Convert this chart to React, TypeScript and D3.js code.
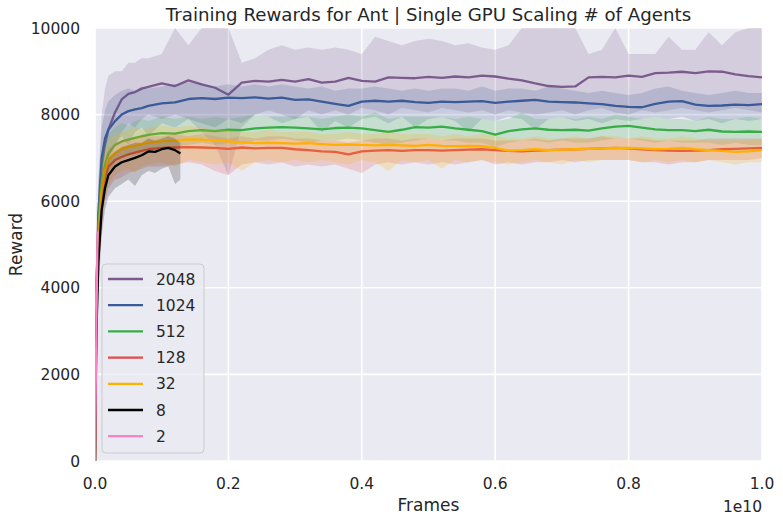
import * as d3 from 'd3';

const W = 783;
const H = 521;
const M = { left: 95, right: 762, top: 28, bottom: 461 };

// shared frame grid (units of 1e10 frames)
const frames = [
  0, 0.002, 0.005, 0.01, 0.015, 0.02, 0.03, 0.04, 0.05, 0.06, 0.07, 0.08, 0.1, 0.12, 0.14, 0.16, 0.18, 0.2,
  0.22, 0.24, 0.26, 0.28, 0.3, 0.32, 0.34, 0.36, 0.38, 0.4, 0.42, 0.44, 0.46, 0.48, 0.5, 0.52, 0.54, 0.56,
  0.58, 0.6, 0.62, 0.64, 0.66, 0.68, 0.7, 0.72, 0.74, 0.76, 0.78, 0.8, 0.82, 0.84, 0.86, 0.88, 0.9, 0.92,
  0.94, 0.96, 0.98, 1.0,
];

const mean2048 = [
  0, 3400, 5300, 6800, 7300, 7650, 8050, 8350, 8480, 8520, 8600, 8640, 8720, 8660, 8790, 8700, 8620, 8460,
  8740, 8780, 8760, 8800, 8760, 8820, 8740, 8760, 8850, 8780, 8760, 8860, 8850, 8840, 8870, 8850, 8880, 8860,
  8900, 8880, 8830, 8790, 8720, 8660, 8640, 8650, 8860, 8870, 8860, 8900, 8870, 8960, 8970, 8990, 8960, 9000,
  8990, 8930, 8890, 8860,
];
const hi2048 = [
  200, 4500, 6500, 8000, 8600, 8900, 9000, 9000, 9200, 9200, 9300, 9300, 9400, 10000, 9600, 10000, 10000, 10000,
  9200, 9300, 9500, 9600, 9500, 9550, 9500, 9550, 9500, 9400, 9800, 9700, 9600, 9700, 9750, 9700, 9600, 9650,
  9550, 9500, 9600, 10000, 10000, 10000, 10000, 10000, 9400, 9500, 10000, 9400, 9400, 9400, 9800, 9500, 9500, 9900,
  9600, 9900, 10000, 10000,
];
const lo2048 = [
  0, 2500, 4200, 5600, 6300, 6800, 7300, 7600, 7800, 7700, 7900, 8000, 7900, 8000, 7900, 7600, 7300, 6600,
  7700, 8000, 8100, 8000, 7900, 8100, 8000, 8100, 8000, 8150, 8100, 8000, 8150, 8100, 8050, 8150, 8100, 8050,
  8100, 8000, 8100, 8050, 8000, 8050, 8100, 8000, 8100, 8150, 8050, 8000, 8100, 8050, 8100, 8150, 8100, 8050,
  8100, 8150, 8100, 8050,
];

const mean1024 = [
  0, 3800, 5700, 7000, 7450, 7650, 7850, 8000, 8080, 8120, 8150, 8200, 8260, 8280, 8360, 8380, 8360, 8390,
  8380, 8400, 8370, 8390, 8340, 8350, 8300, 8250, 8200, 8300, 8320, 8300, 8320, 8290, 8270, 8300, 8290, 8300,
  8310, 8270, 8300, 8320, 8340, 8300, 8290, 8280, 8260, 8240, 8200, 8180, 8170, 8250, 8300, 8310, 8230, 8200,
  8210, 8230, 8220, 8240,
];
const hi1024 = [
  100, 4600, 6400, 7700, 8100, 8300, 8450, 8550, 8600, 8550, 8650, 8600, 8650, 8700, 8750, 8700, 8650, 8700,
  8650, 8700, 8650, 8700, 8650, 8600, 8650, 8550, 8600, 8600, 8650, 8600, 8550, 8600, 8550, 8600, 8600, 8550,
  8650, 8550, 8600, 8600, 8550, 8650, 8600, 8550, 8500, 8550, 8500, 8450, 8500, 8600, 8650, 8550, 8500, 8450,
  8500, 8550, 8500, 8500,
];
const lo1024 = [
  0, 2800, 4800, 6200, 6800, 7000, 7300, 7500, 7300, 7600, 7700, 7500, 7800, 7700, 7900, 7800, 7700, 7900,
  7800, 8000, 7950, 7800, 7900, 7950, 7600, 7850, 7700, 7900, 7950, 7800, 7950, 7700, 7900, 7950, 7850, 7600,
  7900, 7850, 7950, 7900, 7650, 7900, 7950, 7850, 7900, 7800, 7900, 7850, 7900, 7950, 7900, 7950, 7850, 7900,
  7800, 7900, 7850, 7900,
];

const mean512 = [
  0, 4000, 5400, 6400, 6850, 7100, 7300, 7380, 7420, 7460, 7500, 7530, 7570, 7560, 7620, 7640, 7620, 7650,
  7640, 7680, 7700, 7710, 7700, 7680, 7660, 7690, 7700, 7680, 7640, 7600, 7650, 7710, 7700, 7720, 7680, 7650,
  7620, 7540, 7620, 7660, 7680, 7650, 7640, 7650, 7630, 7680, 7720, 7740, 7700, 7660, 7640, 7640, 7620, 7650,
  7610, 7600, 7610, 7600,
];
const hi512 = [
  100, 4800, 6100, 7000, 7350, 7550, 7700, 7800, 7750, 7850, 7900, 7850, 7950, 7900, 7950, 7900, 7950, 7900,
  7950, 8000, 7950, 7950, 7950, 7950, 7900, 7950, 8000, 7950, 8050, 7900, 7950, 7950, 7950, 7950, 7900, 7950,
  7900, 7850, 7900, 8050, 7900, 7900, 7950, 7900, 7950, 7900, 8000, 7950, 7900, 7950, 7900, 7900, 7850, 7950,
  7900, 7900, 7950, 7900,
];
const lo512 = [
  0, 3200, 4700, 5800, 6300, 6600, 6900, 7000, 7050, 7100, 7150, 7200, 7250, 7250, 7300, 7350, 7300, 7350,
  7300, 7400, 7400, 7450, 7400, 7350, 7400, 7400, 7450, 7400, 7350, 7300, 7350, 7400, 7450, 7400, 7400, 7350,
  7350, 7250, 7350, 7400, 7400, 7350, 7400, 7350, 7350, 7400, 7450, 7450, 7400, 7350, 7400, 7350, 7350, 7350,
  7300, 7350, 7300, 7300,
];

const mean128 = [
  0, 3500, 4900, 6050, 6550, 6800, 6950, 7020, 7080, 7120, 7160, 7200, 7230, 7240, 7250, 7240, 7230, 7210,
  7240, 7220, 7230, 7230, 7200, 7180, 7150, 7140, 7080, 7150, 7170, 7180, 7160, 7180, 7180, 7170, 7180, 7190,
  7200, 7180, 7160, 7150, 7170, 7180, 7190, 7200, 7210, 7220, 7230, 7220, 7200, 7180, 7170, 7160, 7170, 7180,
  7200, 7210, 7220, 7230,
];
const hi128 = [
  100, 4300, 5600, 6600, 7000, 7200, 7350, 7400, 7450, 7450, 7500, 7500, 7500, 7550, 7500, 7550, 7500, 7450,
  7500, 7450, 7500, 7500, 7450, 7450, 7400, 7400, 7350, 7400, 7450, 7450, 7400, 7450, 7450, 7400, 7450, 7450,
  7450, 7400, 7400, 7400, 7450, 7400, 7450, 7450, 7450, 7500, 7450, 7450, 7450, 7400, 7400, 7400, 7400, 7450,
  7450, 7450, 7450, 7450,
];
const lo128 = [
  0, 2700, 4100, 5400, 6000, 6300, 6500, 6550, 6650, 6700, 6750, 6800, 6800, 6850, 6900, 6850, 6700, 6600,
  6850, 6900, 6850, 6900, 6800, 6850, 6800, 6850, 6750, 6650, 6850, 6900, 6850, 6900, 6850, 6900, 6850, 6900,
  6950, 6850, 6900, 6850, 6900, 6900, 6950, 6900, 6950, 6950, 6950, 6950, 6900, 6900, 6850, 6900, 6900, 6950,
  6950, 6950, 6950, 7000,
];

const mean32 = [
  0, 3700, 5100, 6200, 6700, 6950, 7100, 7200, 7250, 7280, 7320, 7350, 7380, 7400, 7430, 7420, 7400, 7380,
  7360, 7340, 7350, 7340, 7330, 7340, 7320, 7300, 7310, 7300, 7290, 7300, 7290, 7280, 7300, 7280, 7270, 7280,
  7270, 7230, 7170, 7180, 7200, 7180, 7190, 7200, 7210, 7220, 7230, 7230, 7220, 7200, 7210, 7230, 7200, 7180,
  7160, 7140, 7150, 7180,
];
const hi32 = [
  100, 4500, 5800, 6800, 7200, 7400, 7550, 7600, 7650, 7700, 7650, 7700, 7750, 7700, 7750, 7700, 7650, 7650,
  7600, 7600, 7650, 7600, 7600, 7600, 7550, 7550, 7600, 7550, 7550, 7600, 7550, 7550, 7550, 7500, 7550, 7500,
  7550, 7500, 7450, 7450, 7500, 7450, 7450, 7500, 7450, 7500, 7500, 7450, 7500, 7450, 7450, 7500, 7450, 7400,
  7400, 7400, 7400, 7450,
];
const lo32 = [
  0, 2900, 4300, 5500, 6100, 6400, 6600, 6700, 6750, 6650, 6800, 6850, 6900, 6800, 6950, 6900, 6850, 6900,
  6700, 6900, 6950, 6900, 6950, 6900, 6950, 6900, 6850, 6950, 6900, 6700, 6950, 6900, 6950, 6750, 6950, 6900,
  6950, 6900, 6850, 6900, 6950, 6900, 6850, 6950, 6900, 6950, 6950, 6950, 6900, 6950, 6900, 6950, 6900, 6950,
  6900, 6850, 6900, 6900,
];

// 8 agents: short run
const frames8 = [0, 0.002, 0.005, 0.01, 0.015, 0.02, 0.03, 0.04, 0.05, 0.06, 0.07, 0.08, 0.09, 0.1, 0.11, 0.12, 0.128];
const mean8 = [0, 2900, 4600, 5800, 6300, 6600, 6800, 6900, 6950, 7000, 7060, 7150, 7140, 7200, 7230, 7180, 7100];
const hi8 = [100, 3800, 5400, 6400, 6800, 7000, 7150, 7250, 7300, 7350, 7350, 7450, 7400, 7450, 7500, 7450, 7350];
const lo8 = [0, 2000, 3800, 5200, 5800, 6100, 6300, 6400, 6500, 6350, 6600, 6700, 6650, 6750, 6800, 6400, 6500];

// 2 agents: barely started
const frames2 = [0, 0.001, 0.002, 0.003, 0.004];
const mean2 = [0, 1500, 3000, 4300, 5300];
const hi2 = [100, 1900, 3500, 4800, 5700];
const lo2 = [0, 1100, 2500, 3800, 4900];

const labels = ['2048', '1024', '512', '128', '32', '8', '2'];
const colors = ['#7c5b8c', '#3a5a98', '#37ae45', '#e24b4b', '#ffb000', '#000000', '#ff80c4'];

const xTicks = [0, 0.2, 0.4, 0.6, 0.8, 1.0];
const yTicks = [0, 2000, 4000, 6000, 8000, 10000];

type Run = { label: string; color: string; f: number[]; m: number[]; hi: number[]; lo: number[] };

const runs: Run[] = [
  { f: frames, m: mean2048, hi: hi2048, lo: lo2048 },
  { f: frames, m: mean1024, hi: hi1024, lo: lo1024 },
  { f: frames, m: mean512, hi: hi512, lo: lo512 },
  { f: frames, m: mean128, hi: hi128, lo: lo128 },
  { f: frames, m: mean32, hi: hi32, lo: lo32 },
  { f: frames8, m: mean8, hi: hi8, lo: lo8 },
  { f: frames2, m: mean2, hi: hi2, lo: lo2 },
].map((r, i) => ({ ...r, label: labels[i], color: colors[i] }));

const FONT = 'DejaVu Sans, sans-serif';
const TXT = '#262626';

export default function App() {
  const x = d3.scaleLinear().domain([0, 1]).range([M.left, M.right]);
  const y = d3.scaleLinear().domain([0, 10000]).range([M.bottom, M.top]);

  const lineFor = (r: Run) =>
    d3
      .line<number>()
      .x((_, i) => x(r.f[i]))
      .y((v) => y(v))(r.m) ?? '';
  const areaFor = (r: Run) =>
    d3
      .area<number>()
      .x((_, i) => x(r.f[i]))
      .y0((_, i) => y(r.lo[i]))
      .y1((v) => y(v))(r.hi) ?? '';

  const legX = 102;
  const legY = 264;
  const rowH = 26.2;

  return (
    <svg width={W} height={H} style={{ position: 'absolute', left: 0, top: 0 }} fontFamily={FONT}>
      <rect width={W} height={H} fill="#ffffff" />
      <defs>
        <clipPath id="plot">
          <rect x={M.left} y={M.top} width={M.right - M.left} height={M.bottom - M.top} />
        </clipPath>
      </defs>
      <rect x={M.left} y={M.top} width={M.right - M.left} height={M.bottom - M.top} fill="#eaeaf2" />

      {/* grid */}
      {xTicks.map((t) => (
        <line key={'gx' + t} x1={x(t)} x2={x(t)} y1={M.top} y2={M.bottom} stroke="#fff" strokeWidth={1.6} />
      ))}
      {yTicks.map((t) => (
        <line key={'gy' + t} x1={M.left} x2={M.right} y1={y(t)} y2={y(t)} stroke="#fff" strokeWidth={1.6} />
      ))}

      <g clipPath="url(#plot)">
        {runs.map((r) => (
          <g key={r.label}>
            <path d={areaFor(r)} fill={r.color} fillOpacity={0.2} stroke="none" />
            <path d={lineFor(r)} fill="none" stroke={r.color} strokeWidth={2.3} strokeLinejoin="round" />
          </g>
        ))}
      </g>

      {/* y tick labels */}
      {yTicks.map((t) => (
        <text key={'ty' + t} x={80} y={y(t)} dy="0.36em" textAnchor="end" fontSize={15.5} fill={TXT}>
          {t}
        </text>
      ))}
      {/* x tick labels */}
      {xTicks.map((t) => (
        <text key={'tx' + t} x={x(t)} y={489} textAnchor="middle" fontSize={15.5} fill={TXT}>
          {t.toFixed(1)}
        </text>
      ))}
      <text x={762} y={512} textAnchor="end" fontSize={15.5} fill={TXT}>
        1e10
      </text>
      <text x={(M.left + M.right) / 2} y={511} textAnchor="middle" fontSize={17} fill={TXT}>
        Frames
      </text>
      <text
        transform={`translate(22,${(M.top + M.bottom) / 2}) rotate(-90)`}
        textAnchor="middle"
        fontSize={17}
        fill={TXT}
      >
        Reward
      </text>
      <text x={(M.left + M.right) / 2} y={21} textAnchor="middle" fontSize={18.2} fill={TXT}>
        Training Rewards for Ant | Single GPU Scaling # of Agents
      </text>

      {/* legend */}
      <rect
        x={legX}
        y={legY}
        width={102}
        height={189}
        rx={4}
        fill="#eaeaf2"
        fillOpacity={0.8}
        stroke="#cccccc"
        strokeWidth={1}
      />
      {runs.map((r, i) => (
        <g key={'lg' + r.label}>
          <line
            x1={legX + 6}
            x2={legX + 41}
            y1={legY + 15 + i * rowH}
            y2={legY + 15 + i * rowH}
            stroke={r.color}
            strokeWidth={2.3}
          />
          <text x={legX + 54} y={legY + 15 + i * rowH} dy="0.36em" fontSize={15.5} fill={TXT}>
            {r.label}
          </text>
        </g>
      ))}
    </svg>
  );
}
